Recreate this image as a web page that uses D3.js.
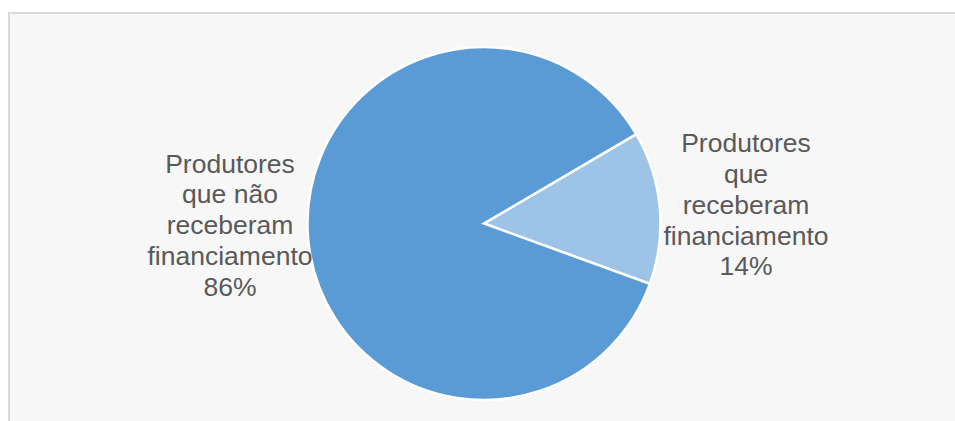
<!DOCTYPE html>
<html>
<head>
<meta charset="utf-8">
<script src="https://cdn.jsdelivr.net/npm/d3@7"></script>
<style>
  html, body { margin: 0; padding: 0; background: #ffffff; }
  svg { display: block; }
</style>
</head>
<body>
<script>
// ---- data ----
const categories = ["Produtores que receberam financiamento", "Produtores que não receberam financiamento"];
const labelLines = [
  ["Produtores", "que", "receberam", "financiamento"],
  ["Produtores", "que não", "receberam", "financiamento"]
];
const values = [14, 86];
const colors = ["#9dc3e6", "#5b9bd5"];

// ---- layout ----
const W = 955, H = 421;
const cx = 484, cy = 223.5, R = 176.5;
const startDeg = 59.6;
const labelPos = [ {x: 746, y0: 152.3}, {x: 230, y0: 172.7} ];
const lineH = 30.75;

const svg = d3.select("body").append("svg").attr("width", W).attr("height", H);

// chart area frame
svg.append("rect")
  .attr("x", 9).attr("y", 13).attr("width", W + 20).attr("height", H + 20)
  .attr("fill", "#f7f7f7").attr("stroke", "#d9d9d9").attr("stroke-width", 2);

const data = categories.map((c, i) => ({ name: c, value: values[i], lines: labelLines[i], color: colors[i] }));
const start = startDeg * Math.PI / 180;
const pie = d3.pie().sort(null).value(d => d.value)
  .startAngle(start).endAngle(start + 2 * Math.PI);
const arc = d3.arc().innerRadius(0).outerRadius(R);

const g = svg.append("g").attr("transform", `translate(${cx},${cy})`);
g.selectAll("path").data(pie(data)).join("path")
  .attr("d", arc)
  .attr("fill", d => d.data.color)
  .attr("stroke", "#ffffff")
  .attr("stroke-width", 2.5)
  .attr("stroke-linejoin", "miter");

const total = d3.sum(values);
const fmt = d3.format(".0%");
data.forEach((d, i) => {
  const t = svg.append("text")
    .attr("text-anchor", "middle")
    .attr("font-family", "Liberation Sans, Arial, sans-serif")
    .attr("font-size", 26.5)
    .attr("fill", "#595959");
  const lines = d.lines.concat([fmt(d.value / total)]);
  lines.forEach((ln, j) => {
    t.append("tspan").attr("x", labelPos[i].x).attr("y", labelPos[i].y0 + j * lineH).text(ln);
  });
});
</script>
</body>
</html>
